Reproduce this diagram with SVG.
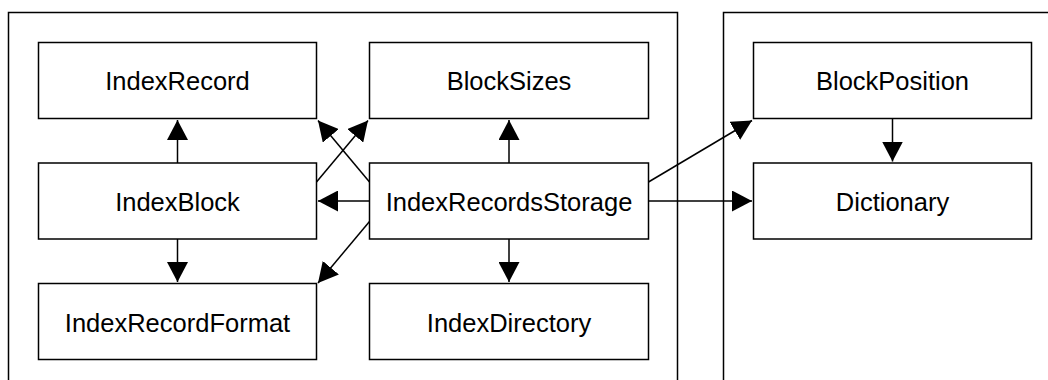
<svg xmlns="http://www.w3.org/2000/svg" width="1048" height="380" viewBox="0 0 1048 380">
  <style>
    .container { fill: none; stroke: #000; stroke-width: 1.5; }
    .box { fill: #fff; stroke: #000; stroke-width: 1.5; }
    .label { font-family: "Liberation Sans", Arial, sans-serif; font-size: 25.5px; fill: #000; text-anchor: middle; }
    .edge { fill: none; stroke: #000; stroke-width: 1.5; marker-end: url(#head); }
  </style>
  <defs>
    <marker id="head" markerUnits="userSpaceOnUse" markerWidth="20" markerHeight="21" refX="20" refY="10.5" orient="auto">
      <path d="M0,0 L20,10.5 L0,21 z" fill="#000"/>
    </marker>
  </defs>

  <rect width="1048" height="380" fill="#fff"/>

  <!-- package frames -->
  <g id="package-index">
    <path class="container" d="M8.5,390 V12.5 H677.5 V390"/>
  </g>
  <g id="package-dictionary">
    <path class="container" d="M723.5,390 V12.5 H1060"/>
  </g>

  <!-- connectors -->
  <g id="connectors">
    <line class="edge" x1="177.5" y1="163" x2="177.5" y2="120"/>
    <line class="edge" x1="177.5" y1="239" x2="177.5" y2="282"/>
    <line class="edge" x1="316.5" y1="182" x2="368" y2="120.5"/>
    <line class="edge" x1="369.5" y1="182" x2="318" y2="120.5"/>
    <line class="edge" x1="369.5" y1="201" x2="318" y2="201"/>
    <line class="edge" x1="369.5" y1="221.5" x2="318" y2="283"/>
    <line class="edge" x1="509" y1="163" x2="509" y2="120"/>
    <line class="edge" x1="509" y1="239" x2="509" y2="282"/>
    <line class="edge" x1="648.5" y1="182" x2="752" y2="120.5"/>
    <line class="edge" x1="648.5" y1="201" x2="752" y2="201"/>
    <line class="edge" x1="892.5" y1="118.5" x2="892.5" y2="161.5"/>
  </g>

  <!-- classes -->
  <g id="IndexRecord">
    <rect class="box" x="38.5" y="42.5" width="278" height="76"/>
    <text class="label" x="177.5" y="90">IndexRecord</text>
  </g>
  <g id="BlockSizes">
    <rect class="box" x="369.5" y="42.5" width="279" height="76"/>
    <text class="label" x="509" y="90">BlockSizes</text>
  </g>
  <g id="IndexBlock">
    <rect class="box" x="38.5" y="163" width="278" height="76"/>
    <text class="label" x="177.5" y="210.5">IndexBlock</text>
  </g>
  <g id="IndexRecordsStorage">
    <rect class="box" x="369.5" y="163" width="279" height="76"/>
    <text class="label" x="509" y="210.5">IndexRecordsStorage</text>
  </g>
  <g id="IndexRecordFormat">
    <rect class="box" x="38.5" y="283.5" width="278" height="76"/>
    <text class="label" x="177.5" y="331.5">IndexRecordFormat</text>
  </g>
  <g id="IndexDirectory">
    <rect class="box" x="369.5" y="283.5" width="279" height="76"/>
    <text class="label" x="509" y="331.5">IndexDirectory</text>
  </g>
  <g id="BlockPosition">
    <rect class="box" x="753.5" y="42.5" width="278" height="76"/>
    <text class="label" x="892.5" y="90">BlockPosition</text>
  </g>
  <g id="Dictionary">
    <rect class="box" x="753.5" y="163" width="278" height="76"/>
    <text class="label" x="892.5" y="210.5">Dictionary</text>
  </g>
</svg>
